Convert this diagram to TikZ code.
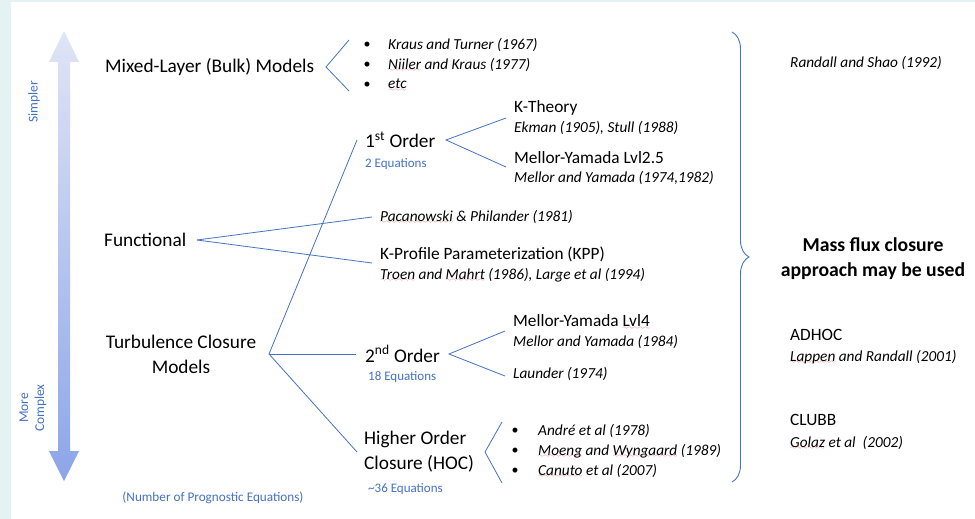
\documentclass[tikz,border=0pt]{standalone}
\usepackage{fontspec}
\setmainfont{Carlito}
\usetikzlibrary{decorations.pathreplacing}
\definecolor{office}{RGB}{68,114,196}
\definecolor{splred}{RGB}{232,72,72}
\definecolor{panel}{RGB}{229,242,243}
\definecolor{arrowtop}{RGB}{224,229,246}
\definecolor{arrowbot}{RGB}{140,165,232}
\font\splwave=lasy6
\newcommand\spl[1]{\setbox0=\hbox{#1}\rlap{\textcolor{splred}{\lower2.8pt\hbox to\wd0{\xleaders\hbox{\splwave\char58}\hfil}}}\box0\relax}

\begin{document}
\begin{tikzpicture}[x=1pt,y=1pt,
  head/.style={anchor=west, font=\fontsize{19.3}{25}\selectfont},
  sub/.style={anchor=west, font=\fontsize{17.3}{20}\selectfont},
  cite/.style={anchor=west, font=\fontsize{15.3}{17}\selectfont\itshape},
  dot/.style={font=\fontsize{14}{15}\selectfont},
  count/.style={anchor=west, text=office, font=\fontsize{13}{14}\selectfont},
  side/.style={rotate=90, text=office, font=\fontsize{13.5}{16}\selectfont},
  link/.style={office, line width=0.8pt}]
\tikzstyle{every node}+=[inner sep=0pt]
\useasboundingbox (0,0) rectangle (975,-519);
\fill [panel] (0,0) rectangle (975,-519);
\fill [white] (11,-2) rectangle (975,-519);
\shade [top color=arrowtop, bottom color=arrowbot] (64,-31) -- (79,-62) -- (70,-62) -- (70,-451) -- (79,-451) -- (64,-481) -- (49,-451) -- (58,-451) -- (58,-62) -- (49,-62) -- cycle;
\node [side] (simp) at (34,-102) {Simpler};
\node [side, align=center] (cplx) at (33,-408) {More\\Complex};
\node [text=office, font=\fontsize{13.2}{14}\selectfont] (nprog) at (213,-498) {(Number of Prognostic Equations)};

\node [head] (ml) at (105,-67) {Mixed-Layer (Bulk) Models};
\coordinate (mlfork) at (326,-67);
\coordinate (mltop) at (349,-40);
\coordinate (mlbot) at (349,-91);
\draw [link] (mltop) -- (mlfork) -- (mlbot);
\node [dot] (mlb1) at (367,-45) {\textbullet};
\node [dot] (mlb2) at (367,-65) {\textbullet};
\node [dot] (mlb3) at (367,-85) {\textbullet};
\node [cite] (kt67) at (388,-45) {Kraus and Turner (1967)};
\node [cite] (nk77) at (388,-65) {\spl{Niiler} and Kraus (1977)};
\node [cite] (etc) at (388,-85) {\spl{etc}};

\node [head] (fn) at (104,-240) {Functional};
\coordinate (fnroot) at (197,-240);
\coordinate (kppend) at (372,-263);
\node [cite] (pac) at (380,-217) {\spl{Pacanowski} \& Philander (1981)};
\node [sub] (kpp) at (380,-254) {K-Profile Parameterization (KPP)};
\node [cite] (kppref) at (380,-275) {\spl{Troen} and \spl{Mahrt} (1986), Large et al (1994)};
\draw [link] (fnroot) -- ([xshift=-8pt]pac.west);
\draw [link] (fnroot) -- (kppend);

\node [head, anchor=center, align=center] (tc) at (181,-354) {Turbulence Closure\\Models};
\coordinate (tcroot) at (269,-354);
\node [head] (o1) at (365,-140) {1\textsuperscript{st} Order};
\node [count] (o1n) at (365,-164) {2 Equations};
\node [head] (o2) at (365,-354) {2\textsuperscript{nd} Order};
\node [count] (o2n) at (368,-377) {18 Equations};
\node [head, align=left] (hoc) at (364,-452) {Higher Order\\Closure (HOC)};
\node [count] (hocn) at (368,-489) {\textasciitilde36 Equations};
\draw [link] (tcroot) -- ([xshift=-8pt]o1.west);
\draw [link] (tcroot) -- ([xshift=-9pt]o2.west);
\draw [link] (tcroot) -- ([xshift=-7pt]hoc.west);

\coordinate (o1fork) at (446,-140);
\coordinate (o1top) at (506,-118);
\coordinate (o1bot) at (506,-167);
\draw [link] (o1top) -- (o1fork) -- (o1bot);
\node [sub] (kth) at (514,-108) {K-Theory};
\node [cite] (kthref) at (514,-128) {Ekman (1905), Stull (1988)};
\node [sub] (my25) at (514,-158) {Mellor-Yamada Lvl2.5};
\node [cite] (my25ref) at (514,-178) {Mellor and Yamada (1974,1982)};

\coordinate (o2fork) at (449,-354);
\coordinate (o2top) at (505,-331);
\coordinate (o2bot) at (505,-376);
\draw [link] (o2top) -- (o2fork) -- (o2bot);
\node [sub] (my4) at (513,-322) {Mellor-Yamada \spl{Lvl4}};
\node [cite] (my4ref) at (513,-342) {Mellor and Yamada (1984)};
\node [cite] (laun) at (513,-374) {Launder (1974)};

\coordinate (hocfork) at (485,-452);
\coordinate (hoctop) at (502,-422);
\coordinate (hocbot) at (502,-483);
\draw [link] (hoctop) -- (hocfork) -- (hocbot);
\node [dot] (hb1) at (515,-431) {\textbullet};
\node [dot] (hb2) at (515,-451) {\textbullet};
\node [dot] (hb3) at (515,-471) {\textbullet};
\node [cite] (andre) at (538,-431) {André et al (1978)};
\node [cite] (mw) at (538,-451) {\spl{Moeng} and \spl{Wyngaard} (1989)};
\node [cite] (can) at (538,-471) {\spl{Canuto} et al (2007)};

\draw [office, line width=0.9pt, decorate, decoration={brace, amplitude=17pt}] (732,-32) -- (732,-482);
\node [cite] (rs) at (790,-63) {Randall and Shao (1992)};
\node [align=center, font=\bfseries\fontsize{19.7}{25}\selectfont] (mf) at (873,-259) {Mass flux closure\\approach may be used};
\node [sub] (adhoc) at (790,-335) {ADHOC};
\node [cite] (adhocref) at (790,-357) {\spl{Lappen} and Randall (2001)};
\node [sub] (clubb) at (790,-420) {CLUBB};
\node [cite] (clubbref) at (790,-443) {\spl{Golaz} et al\ \ (2002)};
\end{tikzpicture}
\end{document}
